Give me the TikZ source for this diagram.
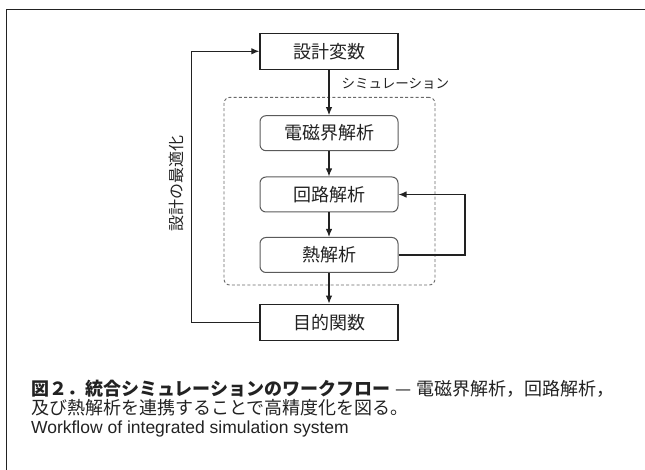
\documentclass[tikz,border=0pt]{standalone}
\usepackage{fontspec}
\setmainfont{Liberation Sans}
\newfontfamily\jp{Noto Sans CJK JP}
\usetikzlibrary{arrows.meta}
\definecolor{ink}{HTML}{222222}
\definecolor{rim}{HTML}{5A5A5A}
\definecolor{dash}{HTML}{6A6A6A}
\begin{document}
\begin{tikzpicture}[x=1pt,y=-1pt,
  line width=1.2pt, draw=ink, text=ink,
  sqbox/.style={draw=ink, line width=1.3pt, minimum width=138pt, minimum height=36pt, inner sep=0pt,
    font=\jp\fontsize{18}{18}\selectfont},
  rdbox/.style={draw=rim, line width=1pt, rounded corners=6pt, minimum width=138pt, minimum height=35pt, inner sep=0pt,
    font=\jp\fontsize{18}{18}\selectfont},
  simframe/.style={draw=dash, line width=0.9pt, dash pattern=on 3pt off 2.2pt, rounded corners=6pt,
    minimum width=211pt, minimum height=187.7pt, inner sep=0pt},
  arr/.style={draw=ink, line width=1.2pt, -{Latex[length=8pt,width=6.5pt]}},
  capj/.style={anchor=west, inner sep=0pt, font=\jp\fontsize{18}{18}\selectfont},
]
\useasboundingbox (0,0) rectangle (645,470);
% outer frame (open to the right and bottom)
\draw[ink, line width=1.1pt] (6.5,470) -- (6.5,9.5) -- (645,9.5);

\node[simframe] (sim) at (329.5,191.2) {};
\node[sqbox] (dv) at (329,51.3) {設計変数};
\node[rdbox] (em) at (329,133.2) {電磁界解析};
\node[rdbox] (ck) at (329,194.5) {回路解析};
\node[rdbox] (th) at (329,255) {熱解析};
\node[sqbox] (obj) at (329,322.3) {目的関数};

\node[anchor=west, inner sep=0pt, font=\jp\fontsize{13.5}{13.5}\selectfont] (simlbl) at (341,83.3) {シミュレーション};
\node[rotate=90, inner sep=0pt, font=\jp\fontsize{16}{16}\selectfont] (optlbl) at (176.5,183.5) {設計の最適化};

\coordinate (lx) at (191.7,0);
\coordinate (rx) at (465,0);

\draw[arr] (dv) -- (em);
\draw[arr] (em) -- (ck);
\draw[arr] (ck) -- (th);
\draw[arr] (th) -- (obj);
\draw[arr] (obj.west) -- (obj.west -| lx) |- (dv.west);
\draw[arr] (th.east) -- (th.east -| rx) |- (ck.east);

\node[capj] (cap1) at (30.5,389) {{\bfseries 図２．統合シミュレーションのワークフロー}\hspace{5pt}—\hspace{5pt}電磁界解析，回路解析，};
\node[capj] (cap2) at (30.5,408) {及び熱解析を連携することで高精度化を図る。};
\node[anchor=west, inner sep=0pt, font=\fontsize{17.5}{17.5}\selectfont] (cap3) at (30.5,429) {Workflow of integrated simulation system};
\end{tikzpicture}
\end{document}
